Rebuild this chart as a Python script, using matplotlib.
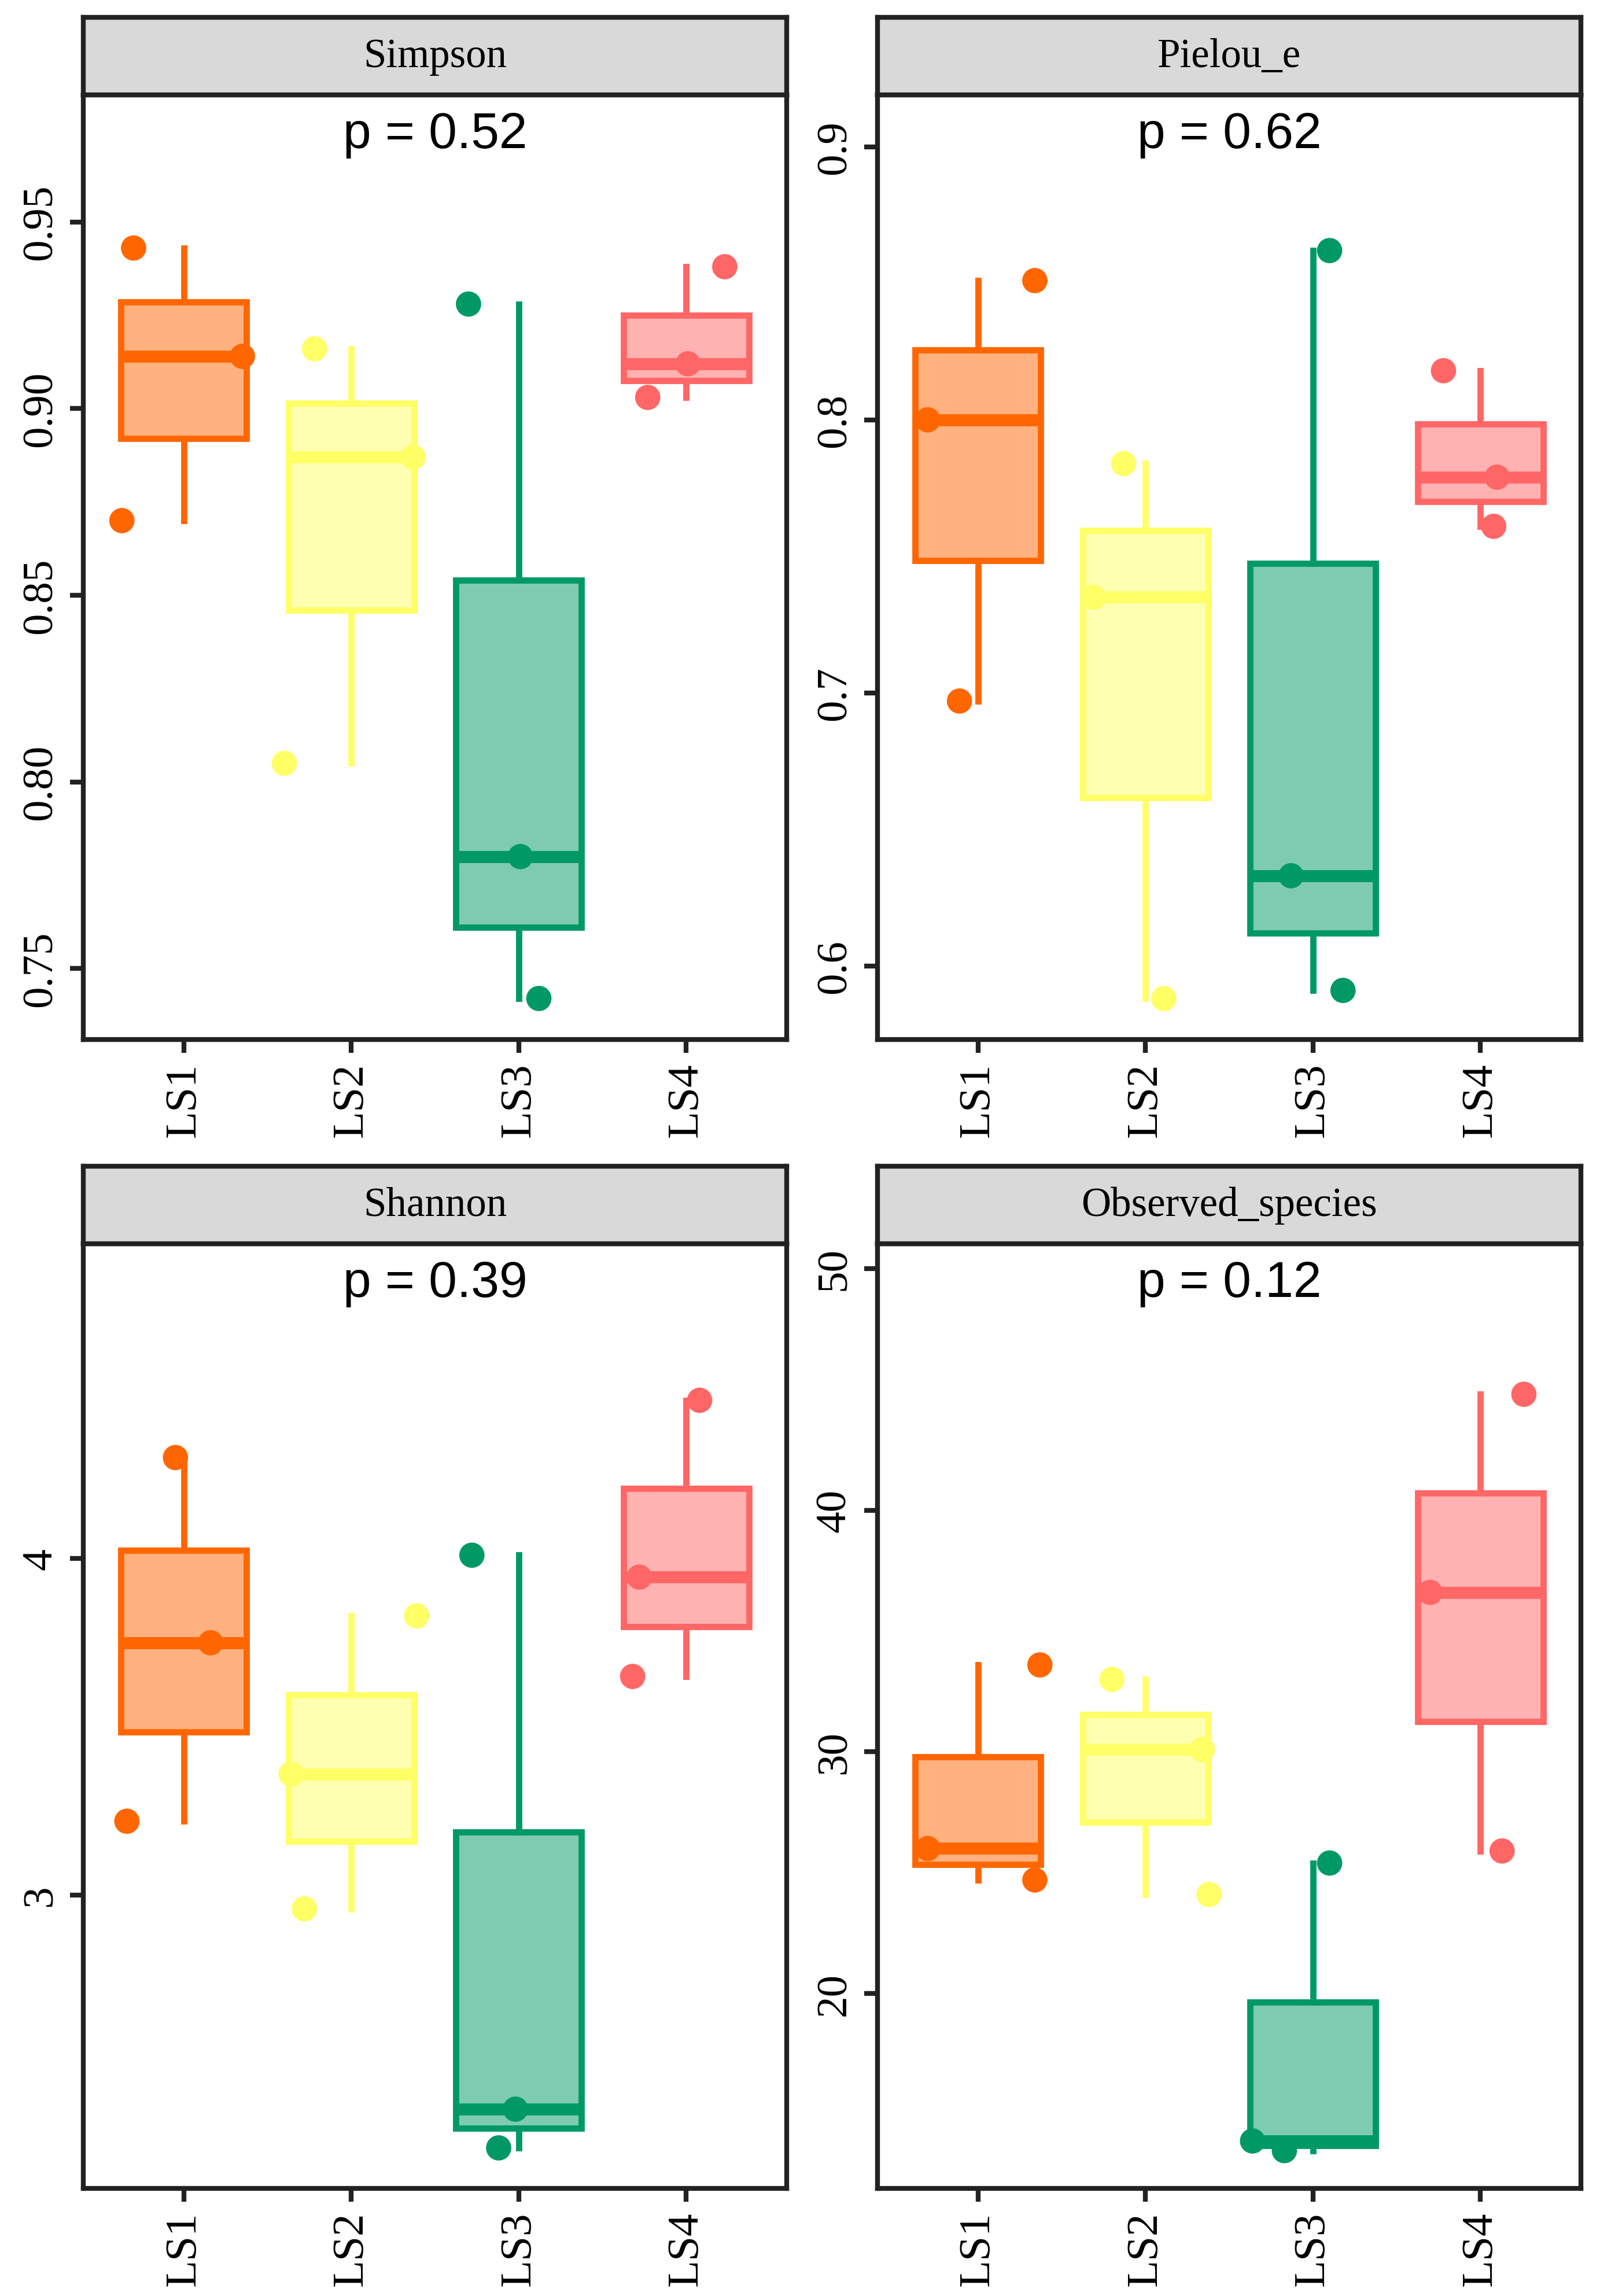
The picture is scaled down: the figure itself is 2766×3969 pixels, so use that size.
import numpy as np
import matplotlib
matplotlib.use("Agg")
import matplotlib.pyplot as plt

# Grupos y colores
groups = ["LS1", "LS2", "LS3", "LS4"]
colors = ["#FF6600", "#FFFF66", "#009966", "#FF6666"]

# Valores (3 muestras por grupo)
simpson = [[0.943, 0.914, 0.870], [0.916, 0.887, 0.805],
           [0.928, 0.780, 0.742], [0.938, 0.912, 0.903]]
pielou = [[0.851, 0.800, 0.697], [0.784, 0.735, 0.588],
          [0.862, 0.633, 0.591], [0.818, 0.779, 0.761]]
shannon = [[4.30, 3.75, 3.22], [3.83, 3.36, 2.96],
           [4.01, 2.365, 2.25], [4.47, 3.945, 3.65]]
observed = [[33.6, 26.0, 24.7], [33.0, 30.1, 24.1],
            [25.4, 13.9, 13.5], [44.8, 36.6, 25.9]]

# Desplazamiento horizontal de los puntos (jitter)
simpson_jit = [[-0.30, 0.35, -0.37], [-0.22, 0.37, -0.40], [-0.30, 0.01, 0.12], [0.23, 0.01, -0.23]]
pielou_jit = [[0.34, -0.30, -0.11], [-0.13, -0.31, 0.11], [0.10, -0.13, 0.18], [-0.22, 0.10, 0.08]]
shannon_jit = [[-0.05, 0.16, -0.34], [0.39, -0.36, -0.28], [-0.28, -0.02, -0.12], [0.08, -0.28, -0.32]]
observed_jit = [[0.37, -0.30, 0.34], [-0.20, 0.34, 0.38], [0.10, -0.36, -0.17], [0.26, -0.30, 0.13]]

titles = ["Simpson", "Pielou_e", "Shannon", "Observed_species"]
pvals = ["p = 0.52", "p = 0.62", "p = 0.39", "p = 0.12"]
yticks = [[0.75, 0.80, 0.85, 0.90, 0.95], [0.6, 0.7, 0.8, 0.9], [3, 4], [20, 30, 40, 50]]
yticklabels = [["0.75", "0.80", "0.85", "0.90", "0.95"], ["0.6", "0.7", "0.8", "0.9"],
               ["3", "4"], ["20", "30", "40", "50"]]
ylims = [(0.731, 0.984), (0.573, 0.919), (2.130, 4.935), (11.94, 51.03)]

datasets = [simpson, pielou, shannon, observed]
jitters = [simpson_jit, pielou_jit, shannon_jit, observed_jit]

SERIF = "Liberation Serif"
SANS = "Liberation Sans"
EDGE = "#222222"

fig = plt.figure(figsize=(2766 / 300, 3970 / 300), dpi=300)

lefts = [0.0521, 0.5484]
bottoms = [0.5471, 0.0469]
w, h, sh = 0.4396, 0.4113, 0.0338

for i in range(4):
    r, c = divmod(i, 2)
    ax = fig.add_axes([lefts[c], bottoms[r], w, h])
    strip = fig.add_axes([lefts[c], bottoms[r] + h, w, sh])

    data = datasets[i]
    pos = np.arange(1, 5)
    bp = ax.boxplot(data, positions=pos, widths=0.75, patch_artist=True,
                    whis=(0, 100), showcaps=False, showfliers=False, zorder=2)
    for k, col in enumerate(colors):
        bp["boxes"][k].set(facecolor=matplotlib.colors.to_rgba(col, 0.5),
                           edgecolor=col, linewidth=2.6)
        bp["medians"][k].set(color=col, linewidth=5, solid_capstyle="butt")
        for wl in bp["whiskers"][2 * k:2 * k + 2]:
            wl.set(color=col, linewidth=2.6)
        xs = pos[k] + np.array(jitters[i][k])
        ax.scatter(xs, data[k], s=110, color=col, edgecolors="none", zorder=3)

    ax.set_xlim(0.4, 4.6)
    ax.set_ylim(*ylims[i])
    ax.set_xticks(pos)
    ax.set_xticklabels(groups, rotation=90, fontfamily=SERIF, fontsize=18.5)
    ax.set_yticks(yticks[i])
    ax.set_yticklabels(yticklabels[i], rotation=90, va="center", fontfamily=SERIF, fontsize=18)
    ax.tick_params(length=5.5, width=2, color=EDGE, pad=4)
    for sp in ax.spines.values():
        sp.set_linewidth(2)
        sp.set_color(EDGE)

    ax.text(0.5, 0.958, pvals[i], transform=ax.transAxes, ha="center", va="center",
            fontfamily=SANS, fontsize=21)

    strip.set_facecolor("#D9D9D9")
    strip.set_xticks([])
    strip.set_yticks([])
    for sp in strip.spines.values():
        sp.set_linewidth(2)
        sp.set_color(EDGE)
    strip.text(0.5, 0.5, titles[i], transform=strip.transAxes, ha="center", va="center",
               fontfamily=SERIF, fontsize=17)

fig.savefig("out.png", dpi=300, facecolor="white")
